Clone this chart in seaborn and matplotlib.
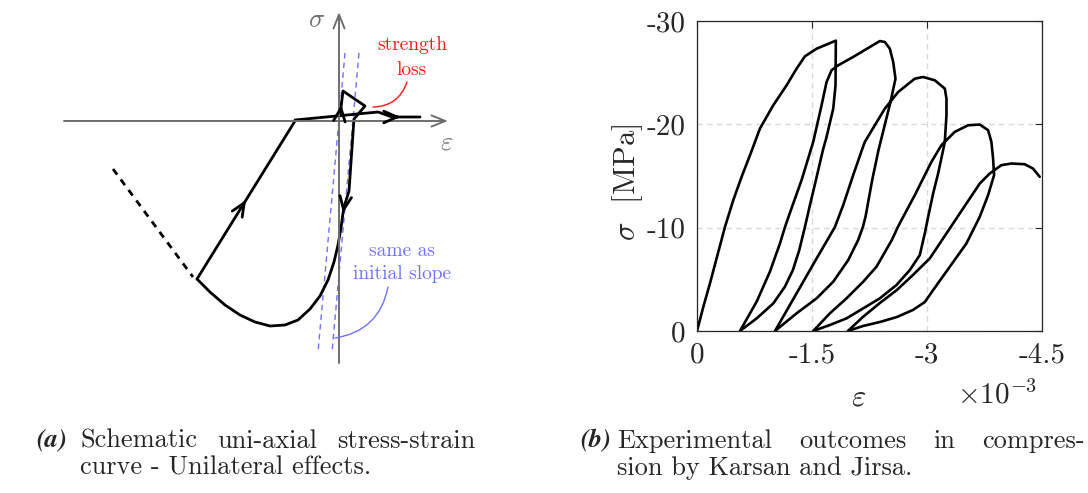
import numpy as np
import pandas as pd
import matplotlib
matplotlib.use("Agg")
import matplotlib.pyplot as plt
import seaborn as sns

# ---------------- panel (b): Karsan & Jirsa cyclic compression ----------------
# strain in units of 1e-3, stress in MPa (one continuous loading path)
strain_e3 = [0, -0.083, -0.169, -0.256, -0.365, -0.473, -0.582, -0.691, -0.821, -0.995, -1.169, -1.299, -1.407,
             -1.560, -1.811,
             -1.807, -1.777, -1.690, -1.642, -1.551, -1.473, -1.407, -1.334, -1.251, -1.147, -0.995, -0.778, -0.560,
             -0.778, -0.951, -1.082, -1.147, -1.255, -1.364, -1.516, -1.625, -1.690, -1.755, -1.842, -2.037, -2.255,
             -2.385,
             -2.450, -2.515, -2.559, -2.589, -2.524, -2.459, -2.367, -2.285, -2.237, -2.198, -2.163, -2.102,
             -1.972, -1.777, -1.560, -1.299, -1.017,
             -1.212, -1.386, -1.560, -1.798, -1.907, -2.037, -2.150, -2.189, -2.320, -2.450, -2.624, -2.841, -2.950,
             -3.102, -3.232, -3.254, -3.254, -3.232, -3.210, -3.145, -3.080, -3.015, -2.971, -2.906, -2.776, -2.602,
             -2.385, -2.168, -1.950, -1.733, -1.516,
             -1.733, -1.950, -2.168, -2.341, -2.541, -2.619, -2.667, -2.841, -2.971, -3.058, -3.188, -3.362, -3.536,
             -3.688, -3.797, -3.840, -3.862, -3.875, -3.797, -3.688, -3.514, -3.297, -3.080, -2.971, -2.815, -2.606,
             -2.385, -2.163, -1.968,
             -2.163, -2.385, -2.606, -2.815, -3.036, -3.210, -3.341, -3.514, -3.688, -3.818, -3.970, -4.101, -4.274,
             -4.383, -4.470]
stress_mpa = [0, -2.35, -4.61, -7.02, -10.08, -12.66, -14.92, -17.01, -19.59, -21.85, -23.78, -25.39, -26.58,
              -27.32, -28.10,
              -23.78, -21.52, -18.78, -17.50, -14.60, -12.18, -10.05, -7.83, -5.90, -4.29, -2.67, -1.22, 0,
              -2.84, -5.74, -8.47, -10.05, -12.34, -14.60, -18.30, -21.85, -24.10, -25.23, -25.71, -26.52, -27.48,
              -28.06,
              -27.97, -27.32, -26.03, -24.42, -22.17, -20.23, -17.50, -14.60, -12.66, -11.05, -10.05, -8.80,
              -6.86, -4.77, -3.16, -1.71, 0,
              -2.51, -4.77, -7.02, -10.05, -12.18, -15.08, -17.50, -18.30, -19.91, -21.52, -23.13, -24.42, -24.58,
              -24.26, -23.46, -22.49, -20.88, -18.30, -17.50, -15.24, -13.31, -11.05, -9.44, -7.35, -5.90, -4.45,
              -3.16, -2.19, -1.22, -0.58, 0,
              -1.71, -3.16, -4.77, -6.22, -8.80, -10.05, -10.73, -13.15, -15.08, -16.37, -17.98, -19.27, -19.91,
              -19.98, -19.43, -18.30, -16.69, -15.08, -13.15, -11.05, -8.47, -6.22, -3.96, -2.80, -2.03, -1.35,
              -0.87, -0.48, 0,
              -1.35, -2.71, -3.96, -5.41, -7.02, -8.96, -10.41, -12.34, -14.27, -15.24, -16.05, -16.21, -16.14,
              -15.72, -14.92]
xtick_vals = [0, -1.5, -3, -4.5]
xtick_labels = ["0", "-1.5", "-3", "-4.5"]
ytick_vals = [0, -10, -20, -30]
ytick_labels = ["0", "-10", "-20", "-30"]

# ---------------- panel (a): schematic (arbitrary units) ----------------
soft_eps = [-226, -146]                 # dashed softening branch
soft_sig = [-48, -156]
unload_eps = [-142, -44]                # unloading from envelope
unload_sig = [-158, 0]
tension_eps = [-44, 39, 53, 81]         # tension branch with strength loss
tension_sig = [1, 9, 4, 4]
return_eps = [1, 4, 26, 15, 10, 5, 4, 2, -1, -5, -11, -19, -29, -41, -54, -69, -84, -99, -114, -129, -142]
return_sig = [5, 30, 15, 2, -70, -86, -92, -107, -124, -141, -159, -175, -188, -199, -204, -205, -201, -194,
              -184, -171, -158]
slope1_eps = [6, -21]
slope1_sig = [68, -231]
slope2_eps = [20, -7]
slope2_sig = [68, -231]

sns.set_style("white")
plt.rcParams["font.family"] = ["cmr10", "DejaVu Serif"]
plt.rcParams["mathtext.fontset"] = "cm"
plt.rcParams["axes.unicode_minus"] = False
plt.rcParams["axes.formatter.use_mathtext"] = True

W, H = 1088, 493
fig = plt.figure(figsize=(W / 100, H / 100), dpi=100)

# ===== panel (a) =====
ox, oy = 339, 121
axa = fig.add_axes([0, 0, 0.5, 1])
axa.set_xlim(-ox, W / 2 - ox)
axa.set_ylim(oy - H, oy)
axa.axis("off")

gray = "#6e6e6e"
axstyle = dict(arrowstyle="->,head_length=1.0,head_width=0.4", color=gray, lw=1.4,
               shrinkA=0, shrinkB=0)
axa.annotate("", xy=(448 - ox, 0), xytext=(64 - ox, 0), arrowprops=axstyle)
axa.annotate("", xy=(0, oy - 12), xytext=(0, oy - 363), arrowprops=axstyle)
axa.text(-22, 101, r"$\sigma$", fontsize=19, color=gray, ha="center", va="center")
axa.text(108, -22, r"$\varepsilon$", fontsize=19, color=gray, ha="center", va="center")

blue = "#7070ff"
for ex, sy in [(slope1_eps, slope1_sig), (slope2_eps, slope2_sig)]:
    sns.lineplot(x=ex, y=sy, ax=axa, color=blue, lw=1.0, sort=False, estimator=None)
    axa.lines[-1].set_dashes([4, 3])

lw = 2.0
sns.lineplot(x=soft_eps, y=soft_sig, ax=axa, color="black", lw=lw, sort=False, estimator=None)
axa.lines[-1].set_dashes([2.5, 2.2])
for ex, sy in [(unload_eps, unload_sig), (tension_eps, tension_sig), (return_eps, return_sig)]:
    sns.lineplot(x=ex, y=sy, ax=axa, color="black", lw=lw, sort=False, estimator=None)
    axa.lines[-1].set_solid_joinstyle("round")


def arrow_on(ex, sy, i, frac):
    p0 = np.array([ex[i], sy[i]], float)
    p1 = np.array([ex[i + 1], sy[i + 1]], float)
    tip = p0 + frac * (p1 - p0)
    d = (p1 - p0) / np.linalg.norm(p1 - p0)
    axa.annotate("", xy=tip, xytext=tip - 6 * d,
                 arrowprops=dict(arrowstyle="->,head_length=0.95,head_width=0.42", color="black",
                                 lw=2.0, shrinkA=0, shrinkB=0))


arrow_on(unload_eps, unload_sig, 0, 0.5)
arrow_on(tension_eps, tension_sig, 2, 0.3)
arrow_on(return_eps, return_sig, 0, 0.45)
arrow_on(return_eps, return_sig, 5, 1.0)

red = "#ff1414"
axa.text(73, 76, "strength", color=red, fontsize=14, ha="center", va="center")
axa.text(73, 51, "loss", color=red, fontsize=14, ha="center", va="center")
axa.annotate("", xy=(34, 14), xytext=(68, 39),
             arrowprops=dict(arrowstyle="-", color=red, lw=1.0, shrinkA=0, shrinkB=0,
                             connectionstyle="arc3,rad=-0.35"))
axa.text(63, -130, "same as", color=blue, fontsize=14, ha="center", va="center")
axa.text(63, -153, "initial slope", color=blue, fontsize=14, ha="center", va="center")
axa.annotate("", xy=(-4, -217), xytext=(49, -166),
             arrowprops=dict(arrowstyle="-", color=blue, lw=1.0, shrinkA=0, shrinkB=0,
                             connectionstyle="arc3,rad=-0.35"))

# ===== panel (b) =====
dark = "#262626"
axb = fig.add_axes([697 / W, 1 - 331 / H, 345 / W, 310 / H])
df = pd.DataFrame({"strain": strain_e3, "stress": stress_mpa})
sns.lineplot(data=df, x="strain", y="stress", ax=axb, color="black", lw=1.9,
             sort=False, estimator=None)
axb.lines[-1].set_solid_joinstyle("round")
axb.set_xlim(0, -4.5)
axb.set_ylim(0, -30)
axb.set_xticks(xtick_vals)
axb.set_xticklabels(xtick_labels)
axb.set_yticks(ytick_vals)
axb.set_yticklabels(ytick_labels)
axb.grid(True, ls=(0, (4, 3)), color="#d9d9d9", lw=1.0)
axb.tick_params(direction="in", length=5, width=0.8, top=True, right=True,
                labelsize=21, colors=dark, pad=8)
for s in axb.spines.values():
    s.set_color(dark)
    s.set_linewidth(0.9)
axb.set_ylabel(r"$\sigma$  [MPa]", fontsize=22, color=dark)
axb.yaxis.set_label_coords(-0.15, 0.48)
axb.set_xlabel("")
axb.text(0.467, -0.216, r"$\varepsilon$", transform=axb.transAxes, fontsize=22,
         color=dark, ha="center", va="center")
axb.text(0.87, -0.205, r"$\times 10^{-3}$", transform=axb.transAxes, fontsize=21,
         color=dark, ha="center", va="center")

# ===== captions =====
cap = 19
renderer = fig.canvas.get_renderer()


def ftext(x, y, s, **kw):
    return fig.text(x / W, 1 - y / H, s, va="center", ha="left", **kw)


def justify(words, x0, x1, y):
    ts = [ftext(x0, y, w, fontsize=cap) for w in words]
    widths = [t.get_window_extent(renderer).width for t in ts]
    gap = (x1 - x0 - sum(widths)) / (len(words) - 1)
    x = x0
    for t, wd in zip(ts, widths):
        t.set_x(x / W)
        x += wd + gap


bold_it = dict(family="STIXGeneral", weight="bold", style="italic", fontsize=19)
ftext(36, 441, "(a)", **bold_it)
justify(["Schematic", "uni-axial", "stress-strain"], 80, 475, 441)
ftext(80, 468, "curve - Unilateral effects.", fontsize=cap)
ftext(580, 441, "(b)", **bold_it)
justify(["Experimental", "outcomes", "in", "compres-"], 617, 1085, 441)
ftext(617, 468, "sion by Karsan and Jirsa.", fontsize=cap)

fig.savefig("out.png", dpi=100)
